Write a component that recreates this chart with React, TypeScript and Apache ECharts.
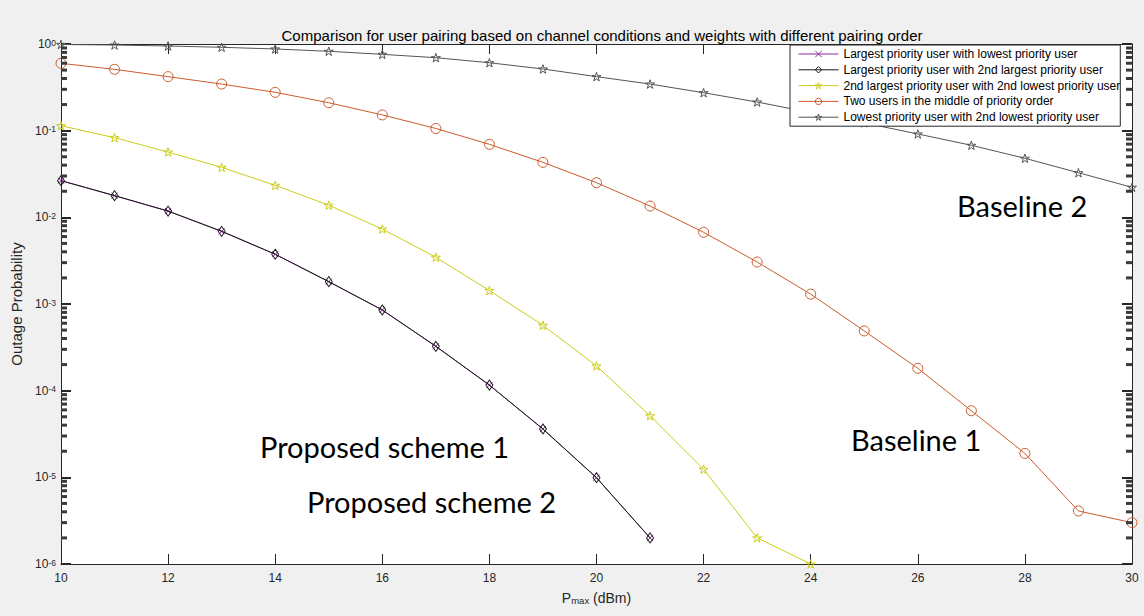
import React, { useEffect, useRef } from "react";
import * as echarts from "echarts";

const X_VALUES = [10, 11, 12, 13, 14, 15, 16, 17, 18, 19, 20, 21, 22, 23, 24, 25, 26, 27, 28, 29, 30];
const X_TICKS = [10, 12, 14, 16, 18, 20, 22, 24, 26, 28, 30];
const Y_EXPONENTS = [-6, -5, -4, -3, -2, -1, 0];

const SERIES_NAMES = [
  "Largest priority user with lowest priority user",
  "Largest priority user with 2nd largest priority user",
  "2nd largest priority user with 2nd lowest priority user",
  "Two users in the middle of priority order",
  "Lowest priority user with 2nd lowest priority user",
];

const LARGEST_LOWEST = [0.0265, 0.0178, 0.0118, 0.0069, 0.00375, 0.00181, 0.000853, 0.000325, 0.000116, 3.61e-5, 9.9e-6, 2.0e-6];
const LARGEST_2ND_LARGEST = [0.0265, 0.0178, 0.0118, 0.0069, 0.00375, 0.00181, 0.000853, 0.000325, 0.000116, 3.61e-5, 9.9e-6, 2.0e-6];
const SECOND_LARGEST_2ND_LOWEST = [0.114, 0.083, 0.0567, 0.0377, 0.0234, 0.0138, 0.00733, 0.00346, 0.00143, 0.000568, 0.000193, 5.14e-5, 1.24e-5, 2.0e-6, 1.0e-6];
const MIDDLE_ORDER = [0.599, 0.51, 0.42, 0.345, 0.277, 0.21, 0.152, 0.106, 0.0696, 0.0431, 0.0251, 0.0135, 0.00672, 0.00305, 0.0013, 0.000489, 0.000181, 5.87e-5, 1.89e-5, 4.09e-6, 3.0e-6];
const LOWEST_2ND_LOWEST = [0.987, 0.973, 0.948, 0.916, 0.876, 0.824, 0.76, 0.695, 0.608, 0.515, 0.42, 0.345, 0.274, 0.214, 0.162, 0.123, 0.0916, 0.0678, 0.048, 0.0327, 0.0222];
const MINOR_MANTISSAS = [2, 3, 4, 5, 6, 7, 8, 9];

const COLORS = ["#8e2c9e", "#1a1a1a", "#cccc1a", "#cc5a2a", "#555555"];

const STAR = "path://M5,0L6.2,3.6L10,3.6L6.9,5.9L8.1,9.5L5,7.3L1.9,9.5L3.1,5.9L0,3.6L3.8,3.6Z";
const CROSS = "path://M0,0L10,10M0,10L10,0";

const AXIS_COLOR = "#262626";
const FONT = "'Liberation Sans', Arial, sans-serif";

function pairs(vals: number[]) {
  return vals.map((v, i) => [X_VALUES[i], v]);
}

export default function App() {
  const ref = useRef<HTMLDivElement>(null);
  useEffect(() => {
    if (!ref.current) return;
    const chart = echarts.init(ref.current, null, { renderer: "svg" });
    const xMin = X_TICKS[0];
    const xMax = X_TICKS[X_TICKS.length - 1];
    const yMin = Math.pow(10, Y_EXPONENTS[0]);
    const yMax = Math.pow(10, Y_EXPONENTS[Y_EXPONENTS.length - 1]);

    const minorTicks: number[] = [];
    Y_EXPONENTS.slice(0, -1).forEach((e) => {
      MINOR_MANTISSAS.forEach((m) => minorTicks.push(m * Math.pow(10, e)));
    });

    const logLabel = (v: number) => {
      const e = Math.round(Math.log10(v));
      return `{b|10}{s|${e}}`;
    };
    const rich = {
      b: { fontSize: 12, lineHeight: 12, verticalAlign: "bottom", color: AXIS_COLOR, fontFamily: FONT },
      s: { fontSize: 8.5, lineHeight: 9, verticalAlign: "top", padding: [0, 0, 5, 0], color: AXIS_COLOR, fontFamily: FONT },
    };

    const mkLine = (name: string, data: number[], color: string, symbol: string, size: any, z: number) => ({
      name,
      type: "line",
      data: pairs(data),
      symbol,
      symbolSize: size,
      symbolKeepAspect: true,
      showSymbol: true,
      z,
      lineStyle: { color, width: 1 },
      itemStyle: { color: "transparent", borderColor: color, borderWidth: 1 },
      emphasis: { disabled: true },
    });

    const minorTick = (name: string, x: number, offset: number) => ({
      name,
      type: "scatter",
      silent: true,
      z: 10,
      symbol: "rect",
      symbolSize: [6, 3],
      symbolOffset: [offset, 0],
      itemStyle: { color: "#3a3a3a", opacity: 1 },
      data: minorTicks.map((v) => [x, v]),
    });

    const annot = (text: string, x: number, y: number) => ({
      type: "text",
      x,
      y,
      style: { text, fontSize: 29, fontFamily: "Lato", fill: "#000", verticalAlign: "middle" },
    });

    chart.setOption({
      animation: false,
      backgroundColor: "#f0f0f0",
      title: {
        text: "Comparison for user pairing based on channel conditions and weights with different pairing order",
        left: 597,
        textAlign: "center",
        top: 23,
        textStyle: { fontSize: 15, fontWeight: "normal", color: "#000", fontFamily: FONT },
      },
      grid: {
        left: 61,
        right: 12,
        top: 44,
        bottom: 52,
        show: true,
        backgroundColor: "#fff",
        borderWidth: 0,
      },
      legend: {
        data: SERIES_NAMES,
        orient: "vertical",
        left: 790,
        top: 45,
        backgroundColor: "#fff",
        borderColor: "#262626",
        borderWidth: 1,
        padding: [3, 0, 3, 8],
        itemWidth: 40,
        itemHeight: 8,
        itemGap: 3.8,
        itemStyle: { color: "transparent", borderWidth: 1 },
        lineStyle: { width: 1 },
        textStyle: { fontSize: 12, lineHeight: 12, color: "#000", fontFamily: FONT },
        selectedMode: false,
      },
      xAxis: [
        {
          type: "value",
          min: xMin,
          max: xMax,
          interval: 2,
          name: "{p|P}{s|max}{p| (dBm)}",
          nameLocation: "middle",
          nameGap: 27,
          nameTextStyle: {
            rich: {
              p: { fontSize: 14, lineHeight: 14, verticalAlign: "top", color: AXIS_COLOR, fontFamily: FONT, padding: [0, 0, 5, 0] },
              s: { fontSize: 9.5, lineHeight: 9, verticalAlign: "bottom", color: AXIS_COLOR, fontFamily: FONT },
            },
          },
          axisLine: { lineStyle: { color: AXIS_COLOR, width: 1 } },
          axisTick: { inside: true, length: 10, lineStyle: { color: AXIS_COLOR } },
          axisLabel: { fontSize: 12, color: AXIS_COLOR, fontFamily: FONT, margin: 8 },
          splitLine: { show: false },
        },
        {
          type: "value",
          position: "top",
          min: xMin,
          max: xMax,
          interval: 2,
          axisLine: { lineStyle: { color: AXIS_COLOR, width: 1 } },
          axisTick: { inside: true, length: 10, lineStyle: { color: AXIS_COLOR } },
          axisLabel: { show: false },
          splitLine: { show: false },
        },
      ],
      yAxis: [
        {
          type: "log",
          logBase: 10,
          min: yMin,
          max: yMax,
          splitNumber: 6,
          name: "Outage Probability",
          nameLocation: "middle",
          nameGap: 34,
          nameTextStyle: { fontSize: 15, color: AXIS_COLOR, fontFamily: FONT },
          axisLine: { show: true, lineStyle: { color: AXIS_COLOR, width: 1 } },
          axisTick: { show: true, inside: true, length: 10, lineStyle: { color: AXIS_COLOR, width: 2 } },
          axisLabel: { formatter: logLabel, rich, margin: 5 },
          splitLine: { show: false },
        },
        {
          type: "log",
          logBase: 10,
          position: "right",
          min: yMin,
          max: yMax,
          splitNumber: 6,
          axisLine: { show: true, lineStyle: { color: AXIS_COLOR, width: 1 } },
          axisTick: { show: true, inside: true, length: 10, lineStyle: { color: AXIS_COLOR, width: 2 } },
          axisLabel: { show: false },
          splitLine: { show: false },
        },
      ],
      series: [
        mkLine(SERIES_NAMES[3], MIDDLE_ORDER, COLORS[3], "circle", 10, 3),
        mkLine(SERIES_NAMES[4], LOWEST_2ND_LOWEST, COLORS[4], STAR, 9, 3),
        mkLine(SERIES_NAMES[2], SECOND_LARGEST_2ND_LOWEST, COLORS[2], STAR, 9, 3),
        mkLine(SERIES_NAMES[0], LARGEST_LOWEST, COLORS[0], CROSS, 6, 3),
        mkLine(SERIES_NAMES[1], LARGEST_2ND_LARGEST, COLORS[1], "diamond", [7, 10], 4),
        minorTick("minor-left", xMin, 3),
        minorTick("minor-right", xMax, -3),
      ],
      graphic: [
        annot("Baseline 2", 957, 205),
        annot("Baseline 1", 851, 439),
        annot("Proposed scheme 1", 260, 446),
        annot("Proposed scheme 2", 307, 501),
      ],
    });
    return () => chart.dispose();
  }, []);
  return <div ref={ref} style={{ position: "absolute", left: 0, top: 0, width: 1144, height: 616 }} />;
}
